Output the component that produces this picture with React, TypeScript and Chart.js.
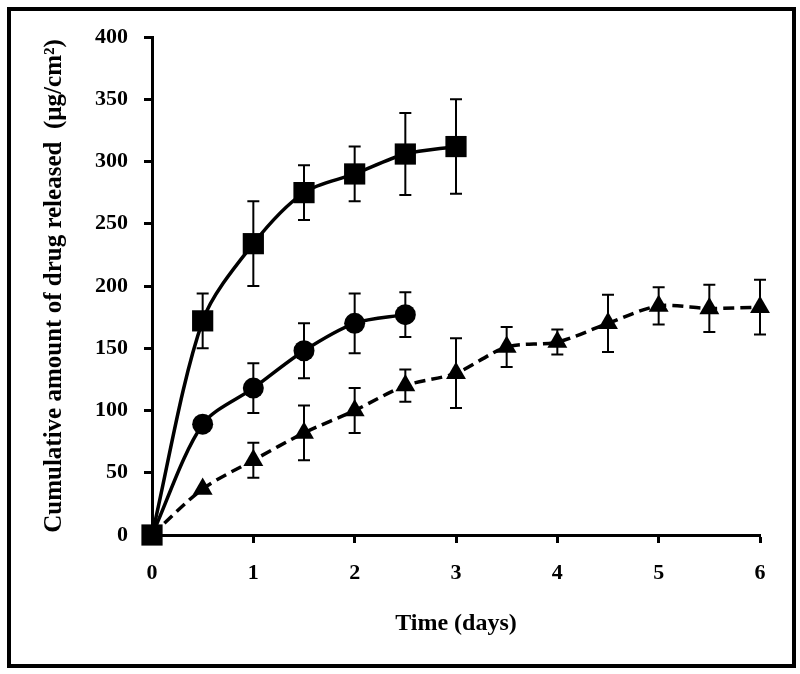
import React, { useEffect, useRef } from "react";
import { Chart, registerables } from "chart.js";

Chart.register(...registerables);

// ---- data ----
const squareX = [0, 0.5, 1, 1.5, 2, 2.5, 3];
const squareY = [0, 172, 234, 275, 290, 306, 312];
const squareErr = [0, 22, 34, 22, 22, 33, 38];

const circleX = [0, 0.5, 1, 1.5, 2, 2.5];
const circleY = [0, 89, 118, 148, 170, 177];
const circleErr = [0, 0, 20, 22, 24, 18];

const triangleX = [0, 0.5, 1, 1.5, 2, 2.5, 3, 3.5, 4, 4.5, 5, 5.5, 6];
const triangleY = [0, 37, 60, 82, 100, 120, 130, 151, 155, 170, 184, 182, 183];
const triangleErr = [0, 0, 14, 22, 18, 13, 28, 16, 10, 23, 15, 19, 22];

const xTicks = [0, 1, 2, 3, 4, 5, 6];
const yTicks = [0, 50, 100, 150, 200, 250, 300, 350, 400];

const xTitle = "Time (days)";
const yTitle = "Cumulative amount of drug released  (\u00b5g/cm\u00b2)";

const FONT = "'Liberation Serif', 'Times New Roman', serif";

const errorBarPlugin = {
  id: "errorBars",
  afterDatasetsDraw(chart: any) {
    const ctx = chart.ctx;
    const xs = chart.scales.x;
    const ys = chart.scales.y;
    ctx.save();
    ctx.strokeStyle = "#000";
    ctx.lineWidth = 2;
    chart.data.datasets.forEach((ds: any) => {
      const errs: number[] = ds.errors || [];
      ds.data.forEach((p: any, i: number) => {
        const e = errs[i];
        if (!e) return;
        const px = xs.getPixelForValue(p.x);
        const top = ys.getPixelForValue(p.y + e);
        const bot = ys.getPixelForValue(p.y - e);
        const cap = 6;
        ctx.beginPath();
        ctx.moveTo(px, top);
        ctx.lineTo(px, bot);
        ctx.moveTo(px - cap, top);
        ctx.lineTo(px + cap, top);
        ctx.moveTo(px - cap, bot);
        ctx.lineTo(px + cap, bot);
        ctx.stroke();
      });
    });
    ctx.restore();
  },
};

const toPoints = (xs: number[], ys: number[]) => xs.map((x, i) => ({ x, y: ys[i] }));

export default function App() {
  const ref = useRef<HTMLCanvasElement | null>(null);

  useEffect(() => {
    if (!ref.current) return;
    const chart = new Chart(ref.current, {
      type: "line",
      data: {
        datasets: [
          {
            data: toPoints(squareX, squareY),
            errors: squareErr,
            borderColor: "#000",
            backgroundColor: "#000",
            borderWidth: 3.5,
            tension: 0.3,
            pointStyle: "rect",
            pointRadius: 15,
            pointBorderWidth: 0,
            clip: false,
          } as any,
          {
            data: toPoints(circleX, circleY),
            errors: circleErr,
            borderColor: "#000",
            backgroundColor: "#000",
            borderWidth: 3.5,
            tension: 0.3,
            pointStyle: "circle",
            pointRadius: circleX.map((_, i) => (i === 0 ? 0 : 10.5)),
            pointBorderWidth: 0,
            clip: false,
          } as any,
          {
            data: toPoints(triangleX, triangleY),
            errors: triangleErr,
            borderColor: "#000",
            backgroundColor: "#000",
            borderWidth: 3.5,
            borderDash: [11, 6],
            tension: 0.3,
            pointStyle: "triangle",
            pointRadius: triangleX.map((_, i) => (i === 0 ? 0 : 11.5)),
            pointBorderWidth: 0,
            clip: false,
          } as any,
        ],
      },
      options: {
        responsive: false,
        animation: false,
        devicePixelRatio: 1,
        layout: { padding: { left: 0, top: 37, right: 40, bottom: 0 } },
        plugins: {
          legend: { display: false },
          tooltip: { enabled: false },
        },
        scales: {
          x: {
            type: "linear",
            min: 0,
            max: 6,
            afterBuildTicks: (s: any) => {
              s.ticks = xTicks.map((v) => ({ value: v }));
            },
            afterFit: (s: any) => {
              s.height = 674 - 535;
            },
            grid: {
              display: true,
              drawOnChartArea: false,
              drawTicks: true,
              tickLength: 8,
              tickWidth: 3,
              tickColor: "#000",
            },
            border: { display: true, color: "#000", width: 3 },
            ticks: {
              color: "#000",
              padding: 17,
              autoSkip: false,
              maxRotation: 0,
              font: { family: FONT, size: 22, weight: "bold" },
            },
            title: {
              display: true,
              text: xTitle,
              color: "#000",
              font: { family: FONT, size: 24, weight: "bold" },
              padding: { top: 0, bottom: 36 },
            },
          },
          y: {
            type: "linear",
            min: 0,
            max: 400,
            afterBuildTicks: (s: any) => {
              s.ticks = yTicks.map((v) => ({ value: v }));
            },
            afterFit: (s: any) => {
              s.width = 152;
            },
            grid: {
              display: true,
              drawOnChartArea: false,
              drawTicks: true,
              tickLength: 8,
              tickWidth: 3,
              tickColor: "#000",
            },
            border: { display: true, color: "#000", width: 3 },
            ticks: {
              color: "#000",
              padding: 16,
              font: { family: FONT, size: 22, weight: "bold" },
            },
            title: {
              display: true,
              text: yTitle,
              color: "#000",
              font: { family: FONT, size: 25, weight: "bold" },
              padding: { top: 40, bottom: 0 },
            },
          },
        },
      } as any,
      plugins: [errorBarPlugin],
    });
    return () => chart.destroy();
  }, []);

  return (
    <div style={{ position: "absolute", left: 0, top: 0, width: 800, height: 674, background: "#fff" }}>
      <canvas
        ref={ref}
        width={800}
        height={674}
        style={{ position: "absolute", left: 0, top: 0, width: 800, height: 674 }}
      />
      <div
        style={{
          position: "absolute",
          left: 7,
          top: 7,
          width: 789,
          height: 661,
          border: "4px solid #000",
          boxSizing: "border-box",
          pointerEvents: "none",
        }}
      />
    </div>
  );
}
